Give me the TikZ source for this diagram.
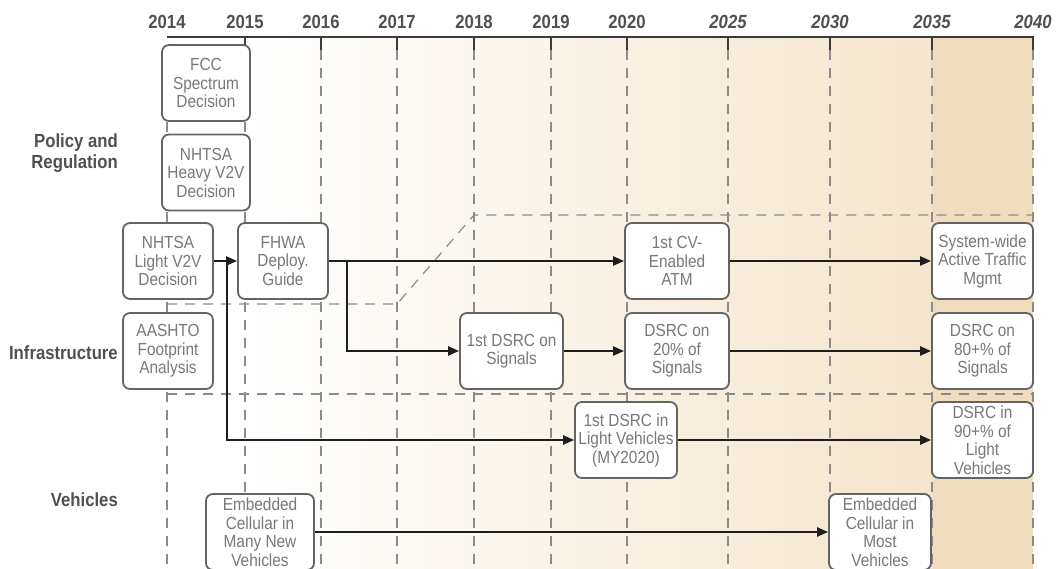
\documentclass[tikz,border=0pt]{standalone}
\usepackage{fontspec}
\setmainfont{Liberation Sans}[FakeStretch=0.88]
\usepackage{tikz}
\usetikzlibrary{
  arrows.meta,
  positioning,
  calc
}

\definecolor{boxline}{RGB}{100,100,100}
\definecolor{boxtext}{RGB}{120,120,125}
\definecolor{lbltext}{RGB}{80,80,80}
\definecolor{gridgray}{RGB}{140,140,140}
\definecolor{axisgray}{RGB}{60,60,60}
\definecolor{tanlight}{RGB}{244,229,205}
\definecolor{tandark}{RGB}{240,221,189}
\definecolor{flowline}{RGB}{30,30,30}

\tikzset{
  milestone/.style={draw=boxline, line width=1.8pt, fill=white, rounded corners=7pt,
    align=center, inner sep=0pt, minimum height=76pt, text=boxtext,
    font=\fontsize{17.5}{18.5}\selectfont},
  flow/.style={draw=flowline, line width=2.2pt, -{Triangle[length=11pt,width=9pt]}},
  gridline/.style={draw=gridgray, line width=1.2pt, dash pattern=on 10pt off 8pt},
  yearlbl/.style={text=lbltext, inner sep=0pt, font=\fontsize{19}{19}\selectfont\bfseries},
  rowlbl/.style={text=lbltext, align=right, anchor=east, inner sep=0pt,
    font=\fontsize{19}{21}\selectfont\bfseries}
}

\begin{document}
\begin{tikzpicture}[x=1pt,y=-1pt]
    \useasboundingbox (0,0) rectangle (1056,569);
    \clip (0,0) rectangle (1056,569);
    % background
    \fill[left color=white, right color=tanlight] (245,37) rectangle (932,569);
    \fill[tandark] (932,37) rectangle (1033,569);
    % year lines
    \draw[gridline] (167,50) -- (167,569);
    \draw[gridline] (245,50) -- (245,569);
    \draw[gridline] (321,50) -- (321,569);
    \draw[gridline] (397,50) -- (397,569);
    \draw[gridline] (474,50) -- (474,569);
    \draw[gridline] (551,50) -- (551,569);
    \draw[gridline] (627,50) -- (627,569);
    \draw[gridline] (728,50) -- (728,569);
    \draw[gridline] (830,50) -- (830,569);
    \draw[gridline] (932,50) -- (932,569);
    \draw[gridline] (1033,50) -- (1033,569);
    % lanes
    \draw[gridline] (167,304) -- (397,304) -- (474,215) -- (1033,215);
    \draw[gridline] (167,394) -- (1033,394);
    % axis
    \draw[axisgray, line width=2.2pt] (167,37) -- (1033,37) -- (1033,50);
    \foreach \xx in {245,321,397,474,551,627,728,830,932}
      \draw[axisgray, line width=1.2pt] (\xx,37) -- (\xx,50);
    \node[yearlbl] (y2014) at (167,22) {2014};
    \node[yearlbl] (y2015) at (245,22) {2015};
    \node[yearlbl] (y2016) at (321,22) {2016};
    \node[yearlbl] (y2017) at (397,22) {2017};
    \node[yearlbl] (y2018) at (474,22) {2018};
    \node[yearlbl] (y2019) at (551,22) {2019};
    \node[yearlbl] (y2020) at (627,22) {2020};
    \node[yearlbl] (y2025) at (728,22) {\itshape 2025};
    \node[yearlbl] (y2030) at (830,22) {\itshape 2030};
    \node[yearlbl] (y2035) at (932,22) {\itshape 2035};
    \node[yearlbl] (y2040) at (1033,22) {\itshape 2040};
    % rows
    \node[rowlbl] (policy) at (118,153) {Policy and\\Regulation};
    \node[rowlbl] (infra) at (118,353) {Infrastructure};
    \node[rowlbl] (vehic) at (118,500) {Vehicles};
    % milestones
    \node[milestone, minimum width=88pt] (fcc) at (206,83) {FCC\\Spectrum\\Decision};
    \node[milestone, minimum width=88pt] (heavy) at (206,172.5) {NHTSA\\Heavy V2V\\Decision};
    \node[milestone, minimum width=90pt] (light) at (168,261) {NHTSA\\Light V2V\\Decision};
    \node[milestone, minimum width=90pt] (fhwa) at (283,261) {FHWA\\Deploy.\\Guide};
    \node[milestone, minimum width=90pt] (aashto) at (168,351) {AASHTO\\Footprint\\Analysis};
    \node[milestone, minimum width=103pt] (dsrcsig) at (511.5,351) {1st DSRC on\\Signals};
    \node[milestone, minimum width=104pt] (cvatm) at (677,261) {1st CV-\\Enabled\\ATM};
    \node[milestone, minimum width=104pt] (dsrctwenty) at (677,351) {DSRC on\\20\% of\\Signals};
    \node[milestone, minimum width=101pt] (sysatm) at (982.5,261) {System-wide\\Active Traffic\\Mgmt};
    \node[milestone, minimum width=101pt] (dsrceighty) at (982.5,351) {DSRC on\\80+\% of\\Signals};
    \node[milestone, minimum width=101pt] (dsrcninety) at (982.5,440) {DSRC in\\90+\% of\\Light\\Vehicles};
    \node[milestone, minimum width=102pt] (dsrclv) at (626,440) {1st DSRC in\\Light Vehicles\\(MY2020)};
    \node[milestone, minimum width=108pt] (cellmany) at (260,532) {Embedded\\Cellular in\\Many New\\Vehicles};
    \node[milestone, minimum width=102pt] (cellmost) at (880,532) {Embedded\\Cellular in\\Most\\Vehicles};
    % connectors
    \coordinate (jlight) at (227,261);
    \coordinate (jfhwa) at (347,261);
    \draw[flow] (light) -- (fhwa);
    \draw[flow] (jlight) |- (dsrclv);
    \draw[flow] (fhwa) -- (cvatm);
    \draw[flow] (jfhwa) |- (dsrcsig);
    \draw[flow] (dsrcsig) -- (dsrctwenty);
    \draw[flow] (cvatm) -- (sysatm);
    \draw[flow] (dsrctwenty) -- (dsrceighty);
    \draw[flow] (dsrclv) -- (dsrcninety);
    \draw[flow] (cellmany) -- (cellmost);
    \end{tikzpicture}
\end{document}
